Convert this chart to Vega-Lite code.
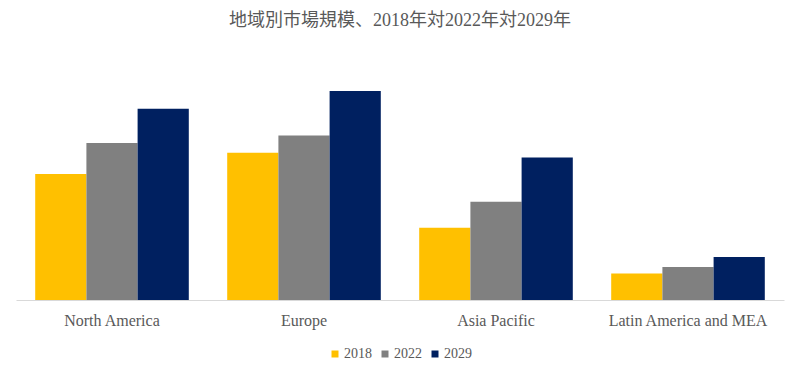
{
  "$schema": "https://vega.github.io/schema/vega-lite/v6.json",
  "width": 768,
  "height": 240,
  "autosize": {"type": "none"},
  "padding": {"left": 16, "top": 60, "right": 16, "bottom": 78},
  "background": "white",
  "title": {
    "text": "地域別市場規模、2018年対2022年対2029年",
    "font": "Liberation Serif, Noto Sans CJK JP",
    "fontSize": 18,
    "fontWeight": "normal",
    "color": "#595959",
    "anchor": "middle",
    "offset": 30
  },
  "data": {
    "values": [
      {"region": "North America", "year": "2018", "value": 126},
      {"region": "North America", "year": "2022", "value": 157},
      {"region": "North America", "year": "2029", "value": 191.3},
      {"region": "Europe", "year": "2018", "value": 147.3},
      {"region": "Europe", "year": "2022", "value": 164.6},
      {"region": "Europe", "year": "2029", "value": 209},
      {"region": "Asia Pacific", "year": "2018", "value": 72.3},
      {"region": "Asia Pacific", "year": "2022", "value": 98.3},
      {"region": "Asia Pacific", "year": "2029", "value": 142.6},
      {"region": "Latin America and MEA", "year": "2018", "value": 26.6},
      {"region": "Latin America and MEA", "year": "2022", "value": 33},
      {"region": "Latin America and MEA", "year": "2029", "value": 43}
    ]
  },
  "mark": {"type": "bar"},
  "encoding": {
    "x": {
      "field": "region",
      "type": "nominal",
      "sort": null,
      "scale": {"paddingInner": 0.2, "paddingOuter": 0.1},
      "axis": {
        "title": null,
        "labelAngle": 0,
        "labelFont": "Liberation Serif, serif",
        "labelFontSize": 16,
        "labelColor": "#595959",
        "labelPadding": 12,
        "labelBaseline": "top",
        "ticks": false,
        "domainColor": "#d9d9d9",
        "domainWidth": 1
      }
    },
    "xOffset": {"field": "year", "type": "nominal", "scale": {"paddingInner": 0, "paddingOuter": 0}},
    "y": {
      "field": "value",
      "type": "quantitative",
      "scale": {"domain": [0, 240]},
      "axis": null
    },
    "color": {
      "field": "year",
      "type": "nominal",
      "scale": {"domain": ["2018", "2022", "2029"], "range": ["#FFC000", "#808080", "#002060"]},
      "legend": {
        "title": null,
        "orient": "none",
        "legendX": 312,
        "legendY": 287,
        "direction": "horizontal",
        "symbolType": "square",
        "symbolSize": 49,
        "symbolStrokeWidth": 0,
        "labelFont": "Liberation Serif, serif",
        "labelFontSize": 14,
        "labelColor": "#595959",
        "labelOffset": 2,
        "columnPadding": 6
      }
    }
  },
  "config": {
    "view": {"stroke": null},
    "bar": {"stroke": null}
  }
}
